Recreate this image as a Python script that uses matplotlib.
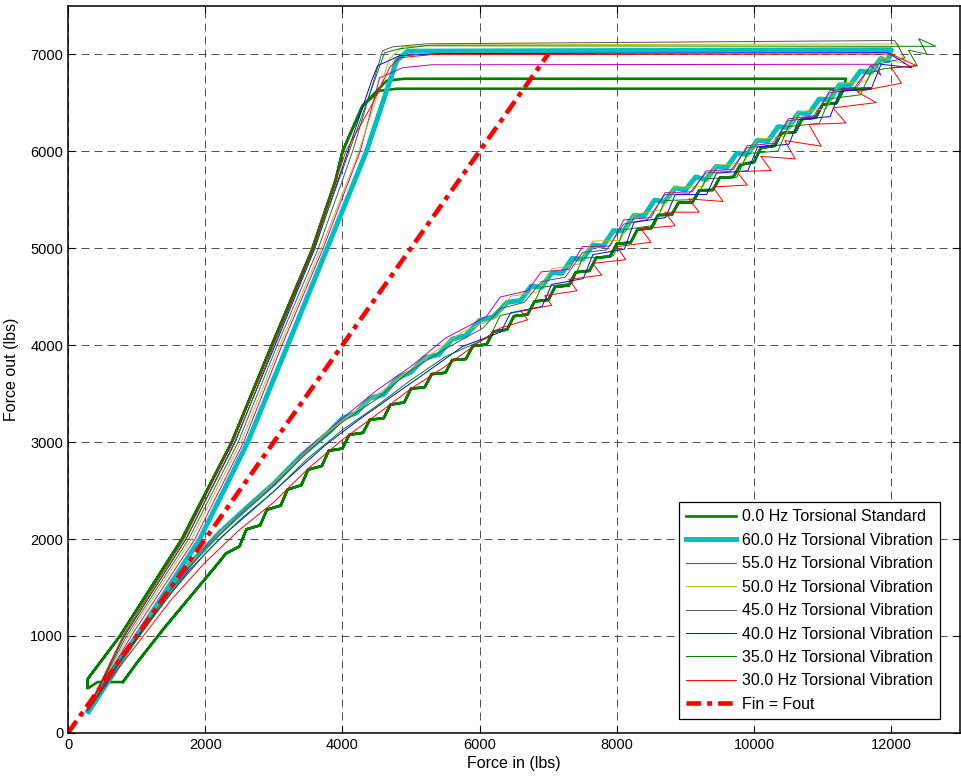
import matplotlib.pyplot as plt
import numpy as np

# ---- 0.0 Hz Torsional Standard (two load cycles) ----
std_load_x = [280, 290, 757, 1660, 2387, 2970, 3552, 3900, 4003, 4294]
std_load_y = [470, 560, 1000, 2000, 3000, 4000, 4974, 5700, 6000, 6468]
std_top1_x = [4643, 4900, 11340]
std_top1_y = [6725, 6746, 6746]
std_top2_x = [4542, 4800, 11700]
std_top2_y = [6622, 6643, 6643]
std_unload_x = [11300, 11200, 11000, 10900, 10700, 10600, 10400, 10300, 10100, 10000,
                9800, 9700, 9500, 9400, 9200, 9100, 8900, 8800, 8600, 8500,
                8300, 8200, 8000, 7900, 7700, 7600, 7400, 7300, 7100, 7000,
                6800, 6700, 6500, 6400, 6200, 6100, 5900, 5800, 5600, 5500,
                5300, 5200, 5000, 4900, 4700, 4600, 4400, 4300, 4100, 4000,
                3800, 3700, 3500, 3400, 3200, 3100, 2900, 2800, 2600, 2500,
                2300, 2200, 1800, 1400, 1000, 800]
std_unload_y = [6630, 6495, 6480, 6345, 6330, 6196, 6185, 6054, 6033, 5886,
                5860, 5733, 5725, 5599, 5595, 5471, 5468, 5344, 5340, 5205,
                5190, 5056, 5045, 4914, 4900, 4765, 4750, 4615, 4600, 4465,
                4450, 4315, 4298, 4159, 4140, 4005, 3990, 3856, 3845, 3714,
                3700, 3565, 3550, 3408, 3385, 3245, 3230, 3095, 3075, 2933,
                2910, 2753, 2715, 2555, 2510, 2345, 2303, 2141, 2100, 1924,
                1850, 1760, 1420, 1080, 720, 525]
std_tail_x = [430, 290]
std_tail_y = [525, 460]

# ---- 60.0 Hz ----
hz60_load_x = [300, 650, 1000, 1921, 2620, 3203, 3780, 4352, 4789, 4950, 12000]
hz60_load_y = [220, 600, 1000, 2000, 3000, 4000, 5000, 6000, 6931, 7030, 7045]
hz60_unload_x = [11950, 11850, 11700, 11550, 11400, 11250, 11100, 10950, 10800, 10650,
                 10500, 10350, 10200, 10050, 9900, 9750, 9600, 9450, 9300, 9150,
                 9000, 8850, 8700, 8550, 8400, 8250, 8100, 7950, 7800, 7650,
                 7500, 7350, 7200, 7050, 6900, 6750, 6600, 6400, 6200, 6000,
                 5800, 5600, 5400, 5200, 5000, 4800, 4600, 4400, 4200, 4000,
                 3800, 3400, 3000, 2600, 2200, 1800, 1400, 1000, 600, 330, 290]
hz60_unload_y = [6930, 6955, 6810, 6825, 6680, 6685, 6530, 6536, 6385, 6394,
                 6243, 6251, 6100, 6112, 5965, 5977, 5830, 5842, 5705, 5733,
                 5600, 5620, 5480, 5494, 5335, 5336, 5178, 5179, 5020, 5032,
                 4885, 4895, 4740, 4745, 4595, 4608, 4460, 4440, 4290, 4255,
                 4100, 4060, 3900, 3870, 3720, 3660, 3490, 3450, 3300, 3245,
                 3100, 2860, 2570, 2320, 2060, 1760, 1400, 1000, 600, 290, 230]

# ---- 55.0 Hz ----
hz55_load_x = [280, 920, 1850, 2560, 3120, 3720, 4260, 4542, 4876, 5300, 11780]
hz55_load_y = [230, 1000, 2000, 3000, 4000, 5000, 6000, 6756, 6859, 6890, 6895]
hz55_unload_x = [11850, 11700, 11500, 11100, 10900, 10500, 10300, 9900, 9700, 9300,
                 9100, 8700, 8500, 8100, 7900, 7500, 7300, 6900, 6700, 6300,
                 6100, 5500, 5000, 4500, 4000, 3500, 3000, 2500, 2000, 1500,
                 1000, 600, 300]
hz55_unload_y = [6780, 6880, 6660, 6620, 6365, 6333, 6080, 6055, 5810, 5795,
                 5580, 5570, 5315, 5290, 5020, 5015, 4780, 4755, 4560, 4495,
                 4295, 4070, 3780, 3533, 3245, 2935, 2570, 2255, 1920, 1490,
                 1000, 600, 250]

# ---- 50.0 Hz ----
hz50_load_x = [280, 880, 1800, 2520, 3090, 3690, 4207, 4687, 4876, 5400, 12100]
hz50_load_y = [230, 1000, 2000, 3000, 4000, 5000, 5932, 6952, 7075, 7095, 7105]
hz50_unload_x = [12200, 11850, 11650, 11250, 11050, 10650, 10450, 10050, 9850, 9450,
                 9250, 8850, 8650, 8250, 8050, 7650, 7450, 7050, 6850, 6450,
                 6250, 5750, 5250, 4750, 4250, 3750, 3250, 2750, 2250, 1750,
                 1250, 800, 300]
hz50_unload_y = [6900, 6965, 6725, 6695, 6436, 6404, 6151, 6122, 5877, 5852,
                 5633, 5630, 5394, 5346, 5079, 5072, 4835, 4785, 4548, 4502,
                 4285, 4135, 3885, 3620, 3350, 3090, 2750, 2410, 2090, 1720,
                 1250, 800, 250]

# ---- 45.0 Hz ----
hz45_load_x = [280, 850, 1760, 2480, 3050, 3650, 4150, 4585, 4731, 5226, 12050]
hz45_load_y = [230, 1000, 2000, 3000, 4000, 5000, 6000, 7034, 7075, 7106, 7140]
hz45_unload_x = [12200, 11700, 11450, 11100, 10850, 10500, 10250, 9900, 9650, 9300,
                 9050, 8700, 8450, 8100, 7850, 7500, 7250, 6900, 6650, 6300,
                 6050, 5500, 5000, 4500, 4000, 3500, 3000, 2500, 2000, 1500,
                 1000, 600, 300]
hz45_unload_y = [6960, 6880, 6640, 6600, 6345, 6313, 6060, 6035, 5790, 5775,
                 5560, 5550, 5295, 5248, 4980, 4955, 4700, 4655, 4440, 4375,
                 4175, 3960, 3740, 3443, 3205, 2905, 2550, 2245, 1900, 1480,
                 990, 590, 240]

# ---- 40.0 Hz ----
hz40_load_x = [280, 820, 1720, 2430, 3020, 3600, 4032, 4425, 4512, 4833, 5400, 11950]
hz40_load_y = [230, 1000, 2000, 3000, 4000, 5000, 5901, 6725, 6880, 6983, 7005, 7015]
hz40_unload_x = [12300, 11850, 11710, 11250, 11110, 10650, 10510, 10050, 9910, 9450,
                 9310, 8850, 8710, 8250, 8110, 7650, 7510, 7050, 6910, 6450,
                 6310, 5750, 5250, 4750, 4250, 3750, 3250, 2750, 2250, 1750,
                 1250, 800, 300]
hz40_unload_y = [6860, 6895, 6645, 6615, 6356, 6324, 6071, 6042, 5797, 5772,
                 5553, 5550, 5314, 5266, 4989, 4932, 4685, 4625, 4398, 4332,
                 4135, 3985, 3732, 3485, 3235, 2968, 2652, 2334, 2030, 1665,
                 1210, 780, 240]

# ---- 35.0 Hz ----
hz35_load_x = [280, 820, 1720, 2440, 3000, 3590, 4100, 4614, 4833, 5226, 12650]
hz35_load_y = [230, 1000, 2000, 3000, 4000, 5000, 6000, 7014, 7055, 7086, 7080]
hz35_unload_x = [12400, 12520, 12250, 12380, 11900, 11700, 11550, 11100, 10950, 10500,
                 10350, 9900, 9750, 9300, 9150, 8700, 8550, 8100, 7950, 7500,
                 7350, 6900, 6750, 6300, 6150, 5500, 5000, 4500, 4000, 3500,
                 3000, 2500, 2000, 1500, 1000, 600, 300]
hz35_unload_y = [7160, 7000, 7040, 6880, 6850, 6810, 6580, 6540, 6285, 6253,
                 6000, 5975, 5730, 5715, 5500, 5490, 5235, 5188, 4920, 4895,
                 4640, 4595, 4370, 4305, 4085, 3880, 3640, 3373, 3125, 2835,
                 2490, 2195, 1850, 1440, 960, 580, 240]

# ---- 30.0 Hz ----
hz30_load_x = [280, 800, 1690, 2400, 2980, 3570, 4050, 4425, 4687, 4833, 5300, 12000]
hz30_load_y = [230, 1000, 2000, 3000, 4000, 5000, 6000, 6470, 6860, 6962, 6995, 7000]
hz30_unload_x = [12370, 12000, 12150, 11500, 11780, 11150, 11340, 10800, 10980, 10450,
                 10600, 10100, 10250, 9750, 9900, 9400, 9550, 9050, 9200, 8700,
                 8850, 8350, 8500, 8000, 8130, 7650, 7780, 7300, 7420, 6950,
                 7050, 6600, 6700, 6300, 6000, 5500, 5000, 4500, 4000, 3500,
                 3000, 2500, 2000, 1500, 1000, 600, 300]
hz30_unload_y = [6880, 6860, 6700, 6613, 6500, 6445, 6290, 6275, 6050, 6109,
                 5920, 5945, 5800, 5787, 5650, 5630, 5480, 5507, 5370, 5370,
                 5230, 5199, 5060, 5015, 4880, 4842, 4720, 4678, 4560, 4509,
                 4410, 4350, 4260, 4175, 4035, 3780, 3550, 3283, 3025, 2725,
                 2380, 2095, 1760, 1370, 910, 540, 240]

# ---- Fin = Fout reference ----
ref_x = [0, 7000]
ref_y = [0, 7000]


def join(*parts):
    return np.concatenate([np.asarray(p, dtype=float) for p in parts])


std_x = join(std_load_x, std_top1_x, std_unload_x, std_tail_x, std_load_x, std_top2_x, std_unload_x)
std_y = join(std_load_y, std_top1_y, std_unload_y, std_tail_y, std_load_y, std_top2_y, std_unload_y)

series = [
    ("0.0 Hz Torsional Standard", std_x, std_y, "#008000", 1.9),
    ("60.0 Hz Torsional Vibration", join(hz60_load_x, hz60_unload_x), join(hz60_load_y, hz60_unload_y), "#00BFBF", 3.6),
    ("55.0 Hz Torsional Vibration", join(hz55_load_x, hz55_unload_x), join(hz55_load_y, hz55_unload_y), "#BF00BF", 0.7),
    ("50.0 Hz Torsional Vibration", join(hz50_load_x, hz50_unload_x), join(hz50_load_y, hz50_unload_y), "#BFBF00", 0.7),
    ("45.0 Hz Torsional Vibration", join(hz45_load_x, hz45_unload_x), join(hz45_load_y, hz45_unload_y), "#555555", 0.7),
    ("40.0 Hz Torsional Vibration", join(hz40_load_x, hz40_unload_x), join(hz40_load_y, hz40_unload_y), "#0000FF", 0.7),
    ("35.0 Hz Torsional Vibration", join(hz35_load_x, hz35_unload_x), join(hz35_load_y, hz35_unload_y), "#008000", 0.7),
    ("30.0 Hz Torsional Vibration", join(hz30_load_x, hz30_unload_x), join(hz30_load_y, hz30_unload_y), "#FF0000", 0.7),
]

plt.rcParams["font.family"] = ["Liberation Sans", "DejaVu Sans"]
plt.rcParams["font.size"] = 10

fig = plt.figure(figsize=(9.61, 7.79), dpi=100)
ax = fig.add_axes([0.0708, 0.0591, 0.928, 0.9337])

for label, x, y, color, lw in series:
    ax.plot(x, y, color=color, linewidth=lw, label=label, solid_joinstyle="round")

ax.plot(ref_x, ref_y, color="#FF0000", linewidth=3.3, label="Fin = Fout",
        dashes=[3.2, 1.3, 1.1, 1.3], dash_capstyle="butt")

ax.set_xlim(0, 13000)
ax.set_ylim(0, 7500)
ax.set_xticks(np.arange(0, 12001, 2000))
ax.set_yticks(np.arange(0, 7001, 1000))
ax.grid(True, color="#333333", linewidth=0.6, linestyle=(0, (9.6, 6)))
ax.set_axisbelow(True)
ax.tick_params(direction="in", top=True, right=True, length=5, width=0.8, labelsize=10.5)
for s in ax.spines.values():
    s.set_linewidth(1.1)

ax.set_xlabel("Force in (lbs)", fontsize=11.5, labelpad=3)
ax.set_ylabel("Force out (lbs)", fontsize=11.5, labelpad=8)

leg = ax.legend(loc="lower right", bbox_to_anchor=(0.978, 0.019), borderaxespad=0,
                fancybox=False, framealpha=1, edgecolor="black", fontsize=11.5,
                handlelength=3.1, handletextpad=0.4, labelspacing=0.53, borderpad=0.45)
leg.get_frame().set_linewidth(0.9)

fig.savefig("out.png", dpi=100)
